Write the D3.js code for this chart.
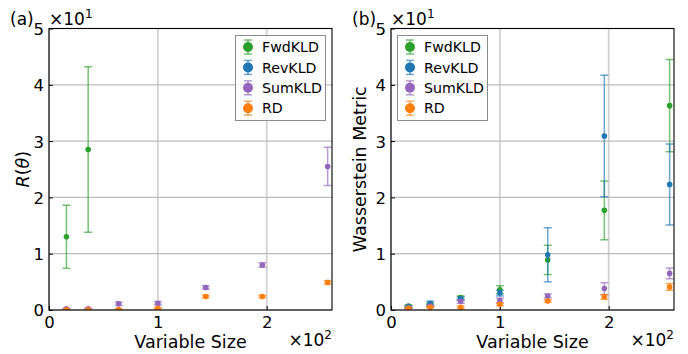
<!DOCTYPE html>
<html>
<head>
<meta charset="utf-8">
<script src="https://cdn.jsdelivr.net/npm/d3@7"></script>
<style>
  html, body { margin: 0; padding: 0; background: #fff; }
  svg { display: block; }
  text { font-family: "DejaVu Sans", sans-serif; fill: #000; }
</style>
</head>
<body>
<svg id="chart" width="688" height="354"></svg>
<script>
// ---------- data ----------
const sizes = [16, 36, 64, 100, 144, 196, 256];
const seriesNames = ["FwdKLD", "RevKLD", "SumKLD", "RD"];
const seriesColors = ["#2ca02c", "#1f77b4", "#9467bd", "#ff7f0e"];
const xTicks = [0, 100, 200];
const yTicks = [0, 10, 20, 30, 40, 50];

// Panel (a): R(theta)
const aFwdX = [16, 36];
const aFwdY = [13.0, 28.5];
const aFwdE = [5.6, 14.7];
const aSumY = [0.2, 0.2, 1.1, 1.2, 4.0, 8.0, 25.5];
const aSumE = [0.1, 0.1, 0.3, 0.3, 0.3, 0.4, 3.4];
const aRdY  = [0.05, 0.02, 0.1, 0.3, 2.4, 2.4, 4.9];
const aRdE  = [0.05, 0.05, 0.1, 0.1, 0.2, 0.2, 0.3];

// Panel (b): Wasserstein metric
const bFwdY = [0.7, 1.0, 2.2, 3.6, 8.9, 17.7, 36.3];
const bFwdE = [0.2, 0.2, 0.3, 0.7, 2.6, 5.2, 8.2];
const bRevY = [0.6, 1.2, 2.0, 3.0, 9.8, 30.9, 22.3];
const bRevE = [0.15, 0.35, 0.3, 0.5, 4.8, 10.8, 7.2];
const bSumY = [0.3, 0.7, 1.5, 1.7, 2.5, 3.8, 6.5];
const bSumE = [0.1, 0.15, 0.3, 0.4, 0.35, 1.05, 0.95];
const bRdY  = [0.35, 0.5, 0.5, 1.0, 1.6, 2.3, 4.1];
const bRdE  = [0.1, 0.1, 0.2, 0.2, 0.2, 0.4, 0.6];

const zip = (xs, ys, es) => ys.map((y, i) => ({x: xs[i], y, e: es[i]}));

const panels = [
  {
    tag: "(a)", ylabel: "R(θ)", italic: true, ylabelX: 22.5,
    left: 49, right: 332, top: 28.5, bottom: 310,
    legendX: 235.5,
    series: [
      {name: "FwdKLD", pts: zip(aFwdX, aFwdY, aFwdE)},
      {name: "RevKLD", pts: []},
      {name: "SumKLD", pts: zip(sizes, aSumY, aSumE)},
      {name: "RD",     pts: zip(sizes, aRdY, aRdE)}
    ]
  },
  {
    tag: "(b)", ylabel: "Wasserstein Metric", italic: false, ylabelX: 360,
    left: 391, right: 674, top: 28.5, bottom: 310,
    legendX: 397.5,
    series: [
      {name: "FwdKLD", pts: zip(sizes, bFwdY, bFwdE)},
      {name: "RevKLD", pts: zip(sizes, bRevY, bRevE)},
      {name: "SumKLD", pts: zip(sizes, bSumY, bSumE)},
      {name: "RD",     pts: zip(sizes, bRdY, bRdE)}
    ]
  }
];

const svg = d3.select("#chart");
const color = d3.scaleOrdinal().domain(seriesNames).range(seriesColors);

panels.forEach((p, pi) => {
  const x = d3.scaleLinear().domain([0, 260]).range([p.left, p.right]);
  const y = d3.scaleLinear().domain([0, 50]).range([p.bottom, p.top]);
  const g = svg.append("g");
  const clipId = "clip" + pi;
  svg.append("clipPath").attr("id", clipId).append("rect")
    .attr("x", p.left).attr("y", p.top)
    .attr("width", p.right - p.left).attr("height", p.bottom - p.top);

  // grid
  g.append("g").selectAll("line").data(xTicks).join("line")
    .attr("x1", d => x(d)).attr("x2", d => x(d))
    .attr("y1", p.top).attr("y2", p.bottom)
    .attr("stroke", "#d2d2d2").attr("stroke-width", 1.8);
  g.append("g").selectAll("line").data(yTicks).join("line")
    .attr("x1", p.left).attr("x2", p.right)
    .attr("y1", d => y(d)).attr("y2", d => y(d))
    .attr("stroke", "#bcbcbc").attr("stroke-width", 1.2);

  // axes (inward ticks)
  const xAxis = d3.axisBottom(x).tickValues(xTicks).tickSize(-4).tickPadding(6)
    .tickFormat(d => d / 100);
  const yAxis = d3.axisLeft(y).tickValues(yTicks).tickSize(-4).tickPadding(5)
    .tickFormat(d => d / 10);
  const gx = g.append("g").attr("transform", `translate(0,${p.bottom})`).call(xAxis);
  const gy = g.append("g").attr("transform", `translate(${p.left},0)`).call(yAxis);
  [gx, gy].forEach(ax => {
    ax.select(".domain").remove();
    ax.selectAll(".tick line").attr("stroke", "#000").attr("stroke-width", 1);
    ax.selectAll(".tick text").attr("font-size", 16.5).attr("font-family", "DejaVu Sans");
  });
  gx.selectAll(".tick text").attr("dy", "0.71em");
  gy.selectAll(".tick text").attr("dy", "0.36em");

  // data
  const dg = g.append("g").attr("clip-path", `url(#${clipId})`);
  p.series.forEach(s => {
    const c = color(s.name);
    const sg = dg.append("g");
    const eb = sg.append("g").attr("stroke", c).attr("stroke-opacity", 0.65).attr("stroke-width", 1.5);
    eb.selectAll("line.v").data(s.pts).join("line").attr("class", "v")
      .attr("x1", d => x(d.x)).attr("x2", d => x(d.x))
      .attr("y1", d => y(d.y - d.e)).attr("y2", d => y(d.y + d.e));
    eb.selectAll("line.ct").data(s.pts).join("line").attr("class", "ct")
      .attr("x1", d => x(d.x) - 4).attr("x2", d => x(d.x) + 4)
      .attr("y1", d => y(d.y + d.e)).attr("y2", d => y(d.y + d.e));
    eb.selectAll("line.cb").data(s.pts).join("line").attr("class", "cb")
      .attr("x1", d => x(d.x) - 4).attr("x2", d => x(d.x) + 4)
      .attr("y1", d => y(d.y - d.e)).attr("y2", d => y(d.y - d.e));
    sg.selectAll("circle").data(s.pts).join("circle")
      .attr("cx", d => x(d.x)).attr("cy", d => y(d.y)).attr("r", 2.8)
      .attr("fill", c);
  });

  // frame
  g.append("rect").attr("x", p.left).attr("y", p.top)
    .attr("width", p.right - p.left).attr("height", p.bottom - p.top)
    .attr("fill", "none").attr("stroke", "#000").attr("stroke-width", 1.1);

  // legend
  const lg = g.append("g");
  lg.append("rect").attr("x", p.legendX).attr("y", 35.5).attr("width", 90).attr("height", 85)
    .attr("fill", "#fff").attr("fill-opacity", 0.85)
    .attr("stroke", "#8c8c8c").attr("stroke-width", 1);
  seriesNames.forEach((n, i) => {
    const cy = 47 + i * 20.4;
    const mx = p.legendX + 12.5;
    const c = color(n);
    const le = lg.append("g").attr("stroke", c).attr("stroke-opacity", 0.65).attr("stroke-width", 1.5);
    le.append("line").attr("x1", mx).attr("x2", mx).attr("y1", cy - 7).attr("y2", cy + 7);
    le.append("line").attr("x1", mx - 4).attr("x2", mx + 4).attr("y1", cy - 7).attr("y2", cy - 7);
    le.append("line").attr("x1", mx - 4).attr("x2", mx + 4).attr("y1", cy + 7).attr("y2", cy + 7);
    lg.append("circle").attr("cx", mx).attr("cy", cy).attr("r", 5).attr("fill", c);
    lg.append("text").attr("x", p.legendX + 26.5).attr("y", cy).attr("dy", "0.36em")
      .attr("font-size", 14.2).text(n);
  });

  // panel tag and offset texts
  svg.append("text").attr("x", p.left - 39).attr("y", 25)
    .attr("font-family", "DejaVu Serif, serif").attr("font-size", 17).text(p.tag);
  const ot = svg.append("text").attr("x", p.left).attr("y", 24.5).attr("font-size", 17);
  ot.append("tspan").text("×10");
  ot.append("tspan").attr("font-size", 12).attr("dy", -7).text("1");
  const ox = svg.append("text").attr("x", p.right).attr("y", 345.5)
    .attr("text-anchor", "end").attr("font-size", 17);
  ox.append("tspan").text("×10");
  ox.append("tspan").attr("font-size", 12).attr("dy", -7).text("2");

  // axis labels
  svg.append("text").attr("x", (p.left + p.right) / 2).attr("y", 347.5)
    .attr("text-anchor", "middle").attr("font-size", 17.5).text("Variable Size");
  const yl = svg.append("text")
    .attr("transform", `translate(${p.ylabelX},${(p.top + p.bottom) / 2}) rotate(-90)`)
    .attr("text-anchor", "middle").attr("dy", "0.36em").attr("font-size", 17.5);
  if (p.italic) {
    yl.append("tspan").attr("font-style", "italic").text("R");
    yl.append("tspan").text("(");
    yl.append("tspan").attr("font-style", "italic").text("θ");
    yl.append("tspan").text(")");
  } else {
    yl.text(p.ylabel);
  }
});
</script>
</body>
</html>
